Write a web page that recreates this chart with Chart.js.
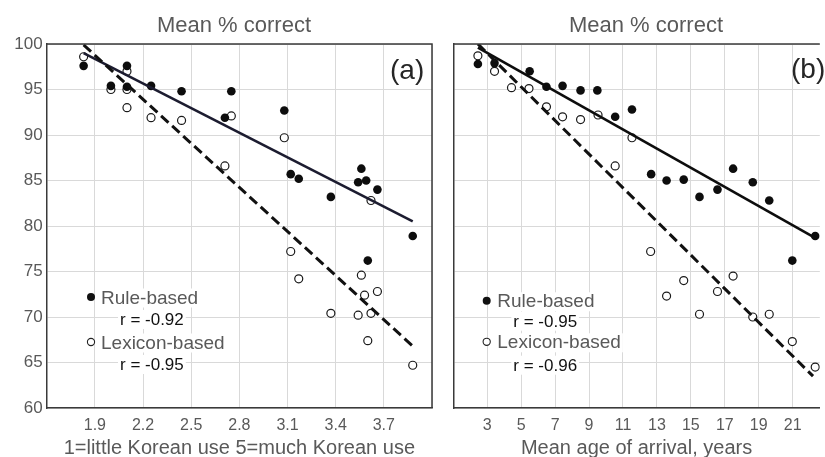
<!DOCTYPE html>
<html lang="en">
<head>
<meta charset="UTF-8">
<script src="https://cdn.jsdelivr.net/npm/chart.js@4.4.0/dist/chart.umd.min.js"></script>
<title>Mean % correct</title>
<style>
  body { margin: 0; background: #fff; width: 825px; height: 457px; overflow: hidden; position: relative; }
  canvas { position: absolute; top: 0; }
  #chartA { left: 0; }
  #chartB { left: 440px; }
</style>
</head>
<body>
<canvas id="chartA" width="440" height="457"></canvas>
<canvas id="chartB" width="385" height="457"></canvas>
<script>
// panel (a): Korean use rating
let useRuleX = [1.83, 2.00, 2.10, 2.10, 2.25, 2.44, 2.71, 2.75, 3.08, 3.12, 3.17, 3.37, 3.54, 3.56, 3.59, 3.60, 3.66, 3.88];
let useRuleY = [97.6, 95.4, 97.6, 95.3, 95.4, 94.8, 91.9, 94.8, 92.7, 85.7, 85.2, 83.2, 84.8, 86.3, 85.0, 76.2, 84.0, 78.9];
let useLexX = [1.83, 2.00, 2.10, 2.10, 2.10, 2.25, 2.44, 2.71, 2.75, 3.08, 3.12, 3.17, 3.37, 3.54, 3.56, 3.58, 3.60, 3.62, 3.62, 3.66, 3.88];
let useLexY = [98.6, 95.0, 97.0, 95.0, 93.0, 91.9, 91.6, 86.6, 92.1, 89.7, 77.2, 74.2, 70.4, 70.2, 74.6, 72.4, 67.4, 70.4, 82.8, 72.8, 64.7];
let useRuleFitX = [1.83, 3.88], useRuleFitY = [99.0, 80.5];
let useLexFitX = [1.83, 3.88], useLexFitY = [99.9, 66.8];

// panel (b): age of arrival
let ageRuleX = [2.45, 3.43, 5.50, 6.49, 7.44, 8.50, 9.49, 10.54, 11.53, 12.66, 13.57, 14.58, 15.51, 16.57, 17.49, 18.65, 19.62, 20.98, 22.33];
let ageRuleY = [97.8, 97.9, 97.0, 95.3, 95.4, 94.9, 94.9, 92.0, 92.8, 85.7, 85.0, 85.1, 83.2, 84.0, 86.3, 84.8, 82.8, 76.2, 78.9];
let ageLexX = [2.45, 3.43, 4.43, 5.46, 6.49, 7.44, 8.50, 9.53, 10.54, 11.53, 12.63, 13.57, 14.58, 15.51, 16.57, 17.49, 18.65, 19.62, 20.98, 22.33];
let ageLexY = [98.7, 97.0, 95.2, 95.1, 93.1, 92.0, 91.7, 92.2, 86.6, 89.7, 77.2, 72.3, 74.0, 70.3, 72.8, 74.5, 70.0, 70.3, 67.3, 64.5];
let ageRuleFitX = [2.45, 22.4], ageRuleFitY = [99.6, 78.6];
let ageLexFitX = [2.45, 22.2], ageLexFitY = [100.0, 63.5];

// axes
let yTicks = [60, 65, 70, 75, 80, 85, 90, 95, 100];
let useTicks = [1.6, 1.9, 2.2, 2.5, 2.8, 3.1, 3.4, 3.7, 4.0];
let ageTicks = [1, 3, 5, 7, 9, 11, 13, 15, 17, 19, 21];

let seriesNames = ['Rule-based', 'Lexicon-based'];
let rUse = ['r = -0.92', 'r = -0.95'];
let rAge = ['r = -0.95', 'r = -0.96'];

const FONT = "'Liberation Sans', Arial, sans-serif";
const GRAY = '#595959';
const FRAME = '#3a3a3a';

function pts(xs, ys) {
  return xs.map((x, i) => ({ x: x, y: ys[i] }));
}

// frame, heading, panel tag and the inset legend
const decor = {
  id: 'decor',
  afterDraw(chart, args, o) {
    const ctx = chart.ctx, a = chart.chartArea;
    ctx.save();
    ctx.strokeStyle = FRAME;
    ctx.lineWidth = 1.5;
    ctx.beginPath();
    ctx.moveTo(a.left, a.top);
    ctx.lineTo(a.right, a.top);
    if (o.closed) ctx.lineTo(a.right, a.bottom);
    ctx.stroke();

    ctx.fillStyle = GRAY;
    ctx.font = '22px ' + FONT;
    ctx.textAlign = 'center';
    ctx.textBaseline = 'alphabetic';
    ctx.fillText('Mean % correct', o.titleX, 32);

    ctx.textAlign = 'left';
    ctx.fillStyle = '#262626';
    ctx.font = '28px ' + FONT;
    ctx.fillText(o.tag, o.tagX, o.tagY);

    const L = o.legend;
    const lines = [
      { t: seriesNames[0], x: L.tx, y: L.y[0], f: '19px ', c: GRAY },
      { t: o.r[0], x: L.rx, y: L.y[1], f: '17px ', c: '#111' },
      { t: seriesNames[1], x: L.tx, y: L.y[2], f: '19px ', c: GRAY },
      { t: o.r[1], x: L.rx, y: L.y[3], f: '17px ', c: '#111' }
    ];
    lines.forEach(l => {
      ctx.font = l.f + FONT;
      const w = ctx.measureText(l.t).width;
      ctx.fillStyle = '#fff';
      ctx.fillRect(l.x - 2, l.y - 15, w + 4, 19);
    });
    lines.forEach(l => {
      ctx.font = l.f + FONT;
      ctx.fillStyle = l.c;
      ctx.fillText(l.t, l.x, l.y);
    });
    // markers
    ctx.fillStyle = '#111';
    ctx.beginPath();
    ctx.arc(L.mx, L.y[0] - 6.5, 4, 0, Math.PI * 2);
    ctx.fill();
    ctx.fillStyle = '#fff';
    ctx.strokeStyle = '#222';
    ctx.lineWidth = 1.1;
    ctx.beginPath();
    ctx.arc(L.mx, L.y[2] - 6.5, 3.6, 0, Math.PI * 2);
    ctx.fill();
    ctx.stroke();
    ctx.restore();
  }
};

function makeChart(id, d) {
  return new Chart(id, {
    type: 'scatter',
    data: {
      datasets: [
        { data: pts(d.lexFitX, d.lexFitY), showLine: true, pointRadius: 0, borderColor: '#111', borderWidth: 3, borderDash: [10, 5] },
        { data: pts(d.ruleFitX, d.ruleFitY), showLine: true, pointRadius: 0, borderColor: d.fitColor, borderWidth: 2.6 },
        { data: pts(d.ruleX, d.ruleY), pointRadius: 4.3, backgroundColor: '#0d0d0d', borderColor: '#0d0d0d', borderWidth: 0 },
        { data: pts(d.lexX, d.lexY), pointRadius: 4, backgroundColor: '#fff', borderColor: '#1a1a1a', borderWidth: 1.2 }
      ]
    },
    options: {
      responsive: false,
      animation: false,
      events: [],
      layout: { padding: { top: 44, left: 0, right: d.padRight, bottom: 0 } },
      plugins: {
        legend: { display: false },
        tooltip: { enabled: false },
        decor: d.decor
      },
      scales: {
        x: {
          type: 'linear',
          min: d.ticks[0],
          max: d.xMax,
          afterBuildTicks: s => { s.ticks = d.ticks.map(v => ({ value: v })); },
          afterFit: s => { s.height = 49; },
          grid: { color: '#d9d9d9', lineWidth: 1, drawTicks: false },
          border: { display: true, color: FRAME, width: 1.5 },
          ticks: {
            padding: 8,
            color: GRAY,
            font: { family: FONT, size: 16 },
            maxRotation: 0,
            autoSkip: false,
            callback: d.xLabel
          },
          title: {
            display: true,
            text: d.xTitle,
            color: GRAY,
            font: { family: FONT, size: 20 },
            padding: { top: 0, bottom: -3 }
          }
        },
        y: {
          min: 60,
          max: 100,
          afterBuildTicks: s => { s.ticks = yTicks.map(v => ({ value: v })); },
          afterFit: s => { s.width = d.yWidth; },
          grid: { color: '#d9d9d9', lineWidth: 1, drawTicks: false },
          border: { display: true, color: FRAME, width: 1.5 },
          ticks: {
            display: d.yLabels,
            padding: 4,
            color: GRAY,
            font: { family: FONT, size: 17 }
          }
        }
      }
    },
    plugins: [decor]
  });
}

makeChart('chartA', {
  ruleX: useRuleX, ruleY: useRuleY, lexX: useLexX, lexY: useLexY,
  ruleFitX: useRuleFitX, ruleFitY: useRuleFitY, lexFitX: useLexFitX, lexFitY: useLexFitY,
  fitColor: '#1c1c30',
  ticks: useTicks, xMax: 4.0,
  xLabel: (v, i) => (i === 0 || i === useTicks.length - 1) ? '' : v.toFixed(1),
  xTitle: '1=little Korean use 5=much Korean use',
  padRight: 6.7, yWidth: 46.7, yLabels: true,
  decor: {
    closed: true, titleX: 234, tag: '(a)', tagX: 390, tagY: 79, r: rUse,
    legend: { mx: 91, tx: 101, rx: 120, y: [303.5, 325, 348.5, 370] }
  }
});

makeChart('chartB', {
  ruleX: ageRuleX, ruleY: ageRuleY, lexX: ageLexX, lexY: ageLexY,
  ruleFitX: ageRuleFitX, ruleFitY: ageRuleFitY, lexFitX: ageLexFitX, lexFitY: ageLexFitY,
  fitColor: '#0d0d0d',
  ticks: ageTicks, xMax: 22.6,
  xLabel: (v, i) => i === 0 ? '' : String(v),
  xTitle: 'Mean age of arrival, years',
  padRight: 0, yWidth: 13.3, yLabels: false,
  decor: {
    closed: false, titleX: 206, tag: '(b)', tagX: 351, tagY: 78, r: rAge,
    legend: { mx: 46.7, tx: 57.3, rx: 73.3, y: [307.3, 326.7, 348.3, 370.7] }
  }
});
</script>
</body>
</html>
